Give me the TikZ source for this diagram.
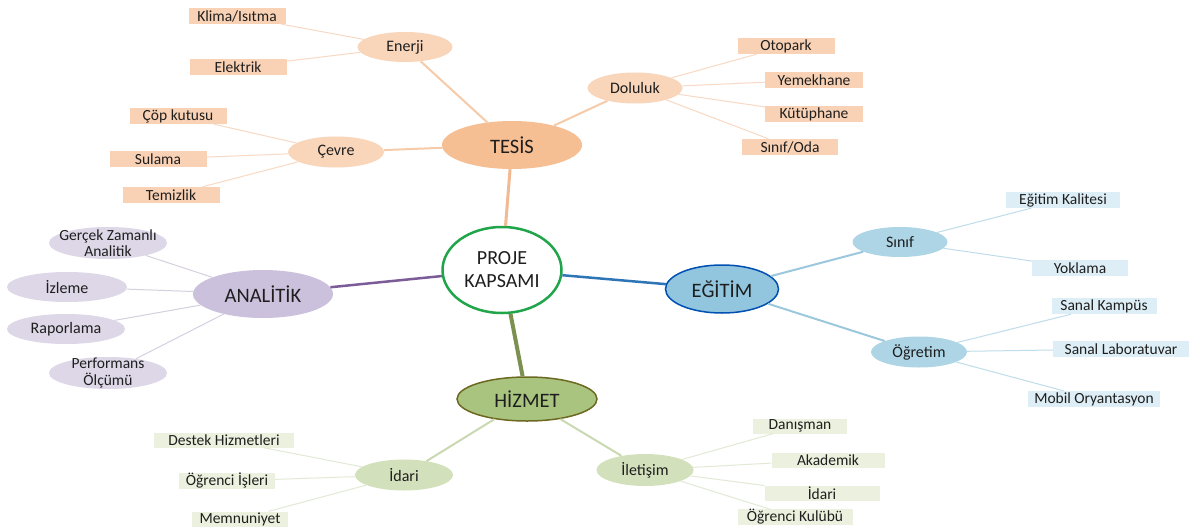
\documentclass[tikz,border=0pt]{standalone}
\usepackage{fontspec}
\setmainfont{Carlito}
\usetikzlibrary{shapes.geometric}

\definecolor{txt}{HTML}{1E1E1E}
\definecolor{proje line}{HTML}{21A54A}
\definecolor{tesis main}{HTML}{F5BE93}
\definecolor{tesis sub}{HTML}{F9D5BA}
\definecolor{tesis leaf}{HTML}{F9D2B5}
\definecolor{egitim main}{HTML}{92C5DE}
\definecolor{egitim sub}{HTML}{ADD5E6}
\definecolor{egitim leaf}{HTML}{DEEEF6}
\definecolor{hizmet main}{HTML}{A9C47F}
\definecolor{hizmet sub}{HTML}{D3E0BC}
\definecolor{hizmet leaf}{HTML}{EBF1DE}
\definecolor{analitik main}{HTML}{CCC1DC}
\definecolor{analitik sub}{HTML}{DDD7E7}

\begin{document}
\begin{tikzpicture}[x=1pt,y=-1pt,
  main/.style={ellipse,inner sep=0pt,minimum width=140pt,minimum height=48pt,text=txt,font=\fontsize{20.5}{22}\selectfont},
  sub/.style={ellipse,inner sep=0pt,minimum width=96pt,minimum height=31pt,text=txt,font=\fontsize{16}{17}\selectfont},
  leaf/.style={rectangle,inner sep=0pt,minimum width=97pt,minimum height=16pt,text=txt,font=\fontsize{15.5}{16}\selectfont},
  two lines/.style={align=center,inner xsep=-9pt,inner ysep=-5pt,minimum width=118pt,minimum height=32pt,font=\fontsize{15.5}{16.5}\selectfont},
  thin line/.style={line width=1pt}]
  \fill[white] (0,0) rectangle (1190,530);
  \useasboundingbox (0,0) rectangle (1190,530);

  % center
  \node[ellipse,draw=proje line,line width=2.5pt,fill=white,minimum width=119pt,minimum height=86pt,inner sep=0pt,
        align=center,text=txt,font=\fontsize{20}{23}\selectfont] (proje) at (502,270) {PROJE\\KAPSAMI};

  % TESIS
  \node[main,fill=tesis main] (tesis) at (512,145) {TESİS};
  \node[sub,fill=tesis sub,minimum width=95pt,minimum height=30pt] (enerji) at (405,47) {Enerji};
  \node[sub,fill=tesis sub] (cevre) at (336,152) {Çevre};
  \node[sub,fill=tesis sub,minimum width=95pt] (doluluk) at (635,88) {Doluluk};
  \node[leaf,fill=tesis leaf] (klima) at (237,16) {Klima/Isıtma};
  \node[leaf,fill=tesis leaf] (elektrik) at (238,67) {Elektrik};
  \node[leaf,fill=tesis leaf] (cop) at (178,116) {Çöp kutusu};
  \node[leaf,fill=tesis leaf] (sulama) at (158,159) {Sulama};
  \node[leaf,fill=tesis leaf] (temizlik) at (171,195) {Temizlik};
  \node[leaf,fill=tesis leaf] (otopark) at (786,46) {Otopark};
  \node[leaf,fill=tesis leaf,minimum width=98pt] (yemekhane) at (814,80) {Yemekhane};
  \node[leaf,fill=tesis leaf,minimum width=98pt] (kutuphane) at (814,114) {Kütüphane};
  \node[leaf,fill=tesis leaf,minimum width=96pt] (sinifoda) at (790,147) {Sınıf/Oda};

  % EGITIM
  \node[main,fill=egitim main,draw=blue!55!cyan!70!black,line width=1.5pt,minimum width=113pt] (egitim) at (722,289) {EĞİTİM};
  \node[sub,fill=egitim sub,minimum width=95pt,minimum height=30pt] (sinif) at (900,242) {Sınıf};
  \node[sub,fill=egitim sub] (ogretim) at (919,352) {Öğretim};
  \node[leaf,fill=egitim leaf,minimum width=114pt] (kalite) at (1063,200) {Eğitim Kalitesi};
  \node[leaf,fill=egitim leaf,minimum width=96pt] (yoklama) at (1080,268) {Yoklama};
  \node[leaf,fill=egitim leaf,minimum width=105pt] (kampus) at (1104,306) {Sanal Kampüs};
  \node[leaf,fill=egitim leaf,minimum width=136pt] (lab) at (1121,349) {Sanal Laboratuvar};
  \node[leaf,fill=egitim leaf,minimum width=132pt] (mobil) at (1094,399) {Mobil Oryantasyon};

  % ANALITIK
  \node[main,fill=analitik main] (analitik) at (263,294) {ANALİTİK};
  \node[sub,fill=analitik sub,two lines] (gercek) at (108,243) {Gerçek Zamanlı\\Analitik};
  \node[sub,fill=analitik sub,minimum width=120pt,minimum height=30pt] (izleme) at (67,287) {İzleme};
  \node[sub,fill=analitik sub,minimum width=118pt,minimum height=30pt] (rapor) at (66,329) {Raporlama};
  \node[sub,fill=analitik sub,two lines] (perf) at (108,373) {Performans\\Ölçümü};

  % HIZMET
  \node[main,fill=hizmet main,draw=olive!70!black,line width=1.5pt,minimum height=44pt] (hizmet) at (527,399) {HİZMET};
  \node[sub,fill=hizmet sub,minimum width=98pt] (idari) at (404,475) {İdari};
  \node[sub,fill=hizmet sub,minimum width=97pt,minimum height=32pt] (iletisim) at (645,470) {İletişim};
  \node[leaf,fill=hizmet leaf,minimum width=140pt,minimum height=15pt] (destek) at (224,440) {Destek Hizmetleri};
  \node[leaf,fill=hizmet leaf,minimum width=96pt,minimum height=15pt] (ogrisleri) at (227,481) {Öğrenci İşleri};
  \node[leaf,fill=hizmet leaf,minimum width=96pt,minimum height=15pt] (memnun) at (240,519) {Memnuniyet};
  \node[leaf,fill=hizmet leaf,minimum width=94pt,minimum height=15pt] (danisman) at (800,426) {Danışman};
  \node[leaf,fill=hizmet leaf,minimum width=113pt,minimum height=15pt] (akademik) at (828,460) {Akademik};
  \node[leaf,fill=hizmet leaf,minimum width=115pt,minimum height=15pt] (idari2) at (822,493) {İdari};
  \node[leaf,fill=hizmet leaf,minimum width=115pt,minimum height=14pt] (kulup) at (795,517) {Öğrenci Kulübü};

  % connectors
  \draw[line width=3pt,color={rgb,255:red,242;green,186;blue,146}] (proje) -- (tesis);
  \draw[line width=2.5pt,color={rgb,255:red,46;green,117;blue,182}] (proje) -- (egitim);
  \draw[line width=2.5pt,color={rgb,255:red,123;green,92;blue,152}] (proje) -- (analitik);
  \draw[line width=4pt,color={rgb,255:red,124;green,145;blue,80}] (proje) -- (hizmet);

  \draw[line width=2pt,color={rgb,255:red,245;green,203;blue,170}] (tesis) -- (enerji) (tesis) -- (cevre) (tesis) -- (doluluk);
  \draw[thin line,color={rgb,255:red,247;green,217;blue,196}] (enerji) -- (klima) (enerji) -- (elektrik)
    (cevre) -- (cop) (cevre) -- (sulama) (cevre) -- (temizlik)
    (doluluk) -- (otopark) (doluluk) -- (yemekhane) (doluluk) -- (kutuphane) (doluluk) -- (sinifoda);

  \draw[line width=2pt,color={rgb,255:red,156;green,200;blue,221}] (egitim) -- (sinif) (egitim) -- (ogretim);
  \draw[thin line,color={rgb,255:red,191;green,220;blue,234}] (sinif) -- (kalite) (sinif) -- (yoklama)
    (ogretim) -- (kampus) (ogretim) -- (lab) (ogretim) -- (mobil);

  \draw[thin line,color={rgb,255:red,214;green,208;blue,222}] (analitik) -- (gercek) (analitik) -- (izleme)
    (analitik) -- (rapor) (analitik) -- (perf);

  \draw[line width=2pt,color={rgb,255:red,203;green,217;blue,178}] (hizmet) -- (idari) (hizmet) -- (iletisim);
  \draw[thin line,color={rgb,255:red,226;green,234;blue,213}] (idari) -- (destek) (idari) -- (ogrisleri) (idari) -- (memnun)
    (iletisim) -- (danisman) (iletisim) -- (akademik) (iletisim) -- (idari2) (iletisim) -- (kulup);
\end{tikzpicture}
\end{document}
